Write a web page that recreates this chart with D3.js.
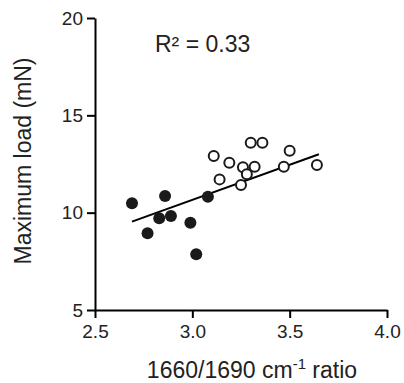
<!DOCTYPE html>
<html>
<head>
<meta charset="utf-8">
<script src="https://cdn.jsdelivr.net/npm/d3@7"></script>
<style>
  body { margin: 0; background: #fff; }
  text { font-family: "Liberation Sans", Arial, sans-serif; fill: #222; }
</style>
</head>
<body>
<div id="chart"></div>
<script>
// filled dots (group 1)
const filledX = [2.69, 2.77, 2.83, 2.86, 2.89, 2.99, 3.02, 3.08];
const filledY = [10.48, 8.94, 9.71, 10.86, 9.83, 9.48, 7.86, 10.82];
// open dots (group 2)
const openX = [3.11, 3.14, 3.19, 3.25, 3.26, 3.28, 3.30, 3.32, 3.36, 3.47, 3.50, 3.64];
const openY = [12.91, 11.71, 12.57, 11.42, 12.33, 11.97, 13.59, 12.36, 13.59, 12.36, 13.18, 12.45];
// regression line end points
const fitX = [2.69, 3.65];
const fitY = [9.54, 13.0];
const xTicks = [2.5, 3.0, 3.5, 4.0];
const yTicks = [5, 10, 15, 20];

const W = 404, H = 383;
const m = {left: 95, top: 18, right: 17, bottom: 73};

const svg = d3.select('#chart').append('svg')
    .attr('width', W)
    .attr('height', H);

const x = d3.scaleLinear().domain([2.5, 4.0]).range([m.left, W - m.right]);
const y = d3.scaleLinear().domain([5, 20]).range([H - m.bottom, m.top]);

// axes
const xAxis = svg.append('g')
    .attr('transform', `translate(0,${H - m.bottom})`)
    .call(d3.axisBottom(x).tickValues(xTicks).tickFormat(d3.format('.1f')).tickSize(8).tickSizeOuter(0));
const yAxis = svg.append('g')
    .attr('transform', `translate(${m.left},0)`)
    .call(d3.axisLeft(y).tickValues(yTicks).tickSize(8).tickSizeOuter(0));

[xAxis, yAxis].forEach(a => {
  a.select('.domain').attr('stroke', '#000').attr('stroke-width', 2);
  a.selectAll('.tick line').attr('stroke', '#000').attr('stroke-width', 2);
  a.selectAll('.tick text')
      .attr('fill', '#222')
      .style('font-size', '19px')
      .style('font-family', '"Liberation Sans", Arial, sans-serif');
});
xAxis.selectAll('.tick text').attr('dy', '0.9em');
yAxis.selectAll('.tick text').attr('x', -12);

// regression line
svg.append('line')
    .attr('x1', x(fitX[0])).attr('y1', y(fitY[0]))
    .attr('x2', x(fitX[1])).attr('y2', y(fitY[1]))
    .attr('stroke', '#000')
    .attr('stroke-width', 2);

// points
svg.append('g').selectAll('circle')
    .data(d3.zip(filledX, filledY))
    .join('circle')
    .attr('cx', d => x(d[0]))
    .attr('cy', d => y(d[1]))
    .attr('r', 6)
    .attr('fill', '#1a1a1a');

svg.append('g').selectAll('circle')
    .data(d3.zip(openX, openY))
    .join('circle')
    .attr('cx', d => x(d[0]))
    .attr('cy', d => y(d[1]))
    .attr('r', 5)
    .attr('fill', '#fff')
    .attr('stroke', '#1a1a1a')
    .attr('stroke-width', 2);

// R squared
svg.append('text')
    .attr('x', 155)
    .attr('y', 52)
    .style('font-size', '23px')
    .text('R² = 0.33');

// axis titles
svg.append('text')
    .attr('transform', `translate(31,161) rotate(-90)`)
    .attr('text-anchor', 'middle')
    .style('font-size', '23px')
    .text('Maximum load (mN)');

const xt = svg.append('text')
    .attr('x', 252)
    .attr('y', 378)
    .attr('text-anchor', 'middle')
    .style('font-size', '23px');
xt.append('tspan').text('1660/1690 cm');
xt.append('tspan').attr('dy', -9).style('font-size', '15px').text('-1');
xt.append('tspan').attr('dy', 9).text(' ratio');
</script>
</body>
</html>
